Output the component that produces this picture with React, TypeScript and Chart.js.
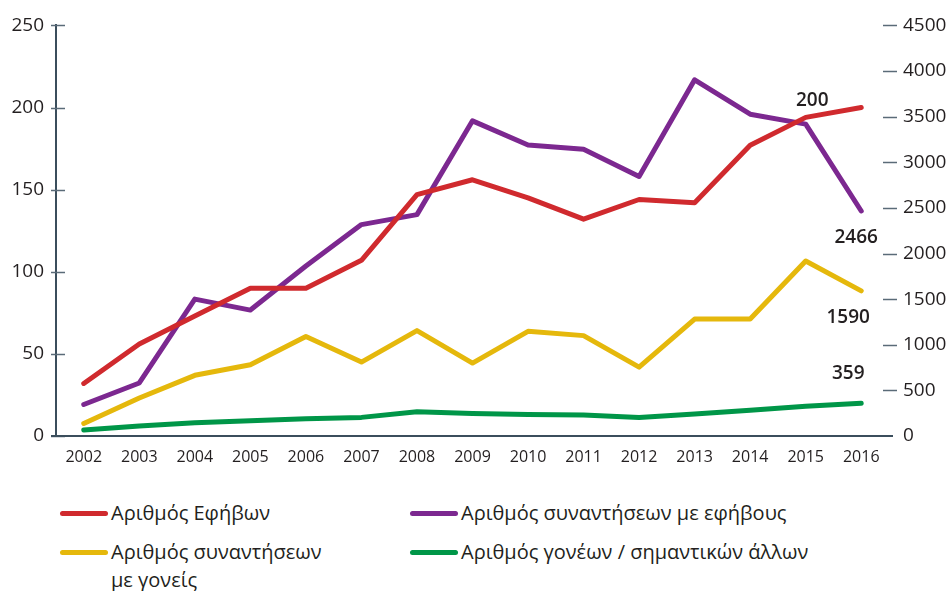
import React, { useEffect, useRef } from "react";
import { Chart, registerables } from "chart.js";

Chart.register(...registerables);

const years = ["2002", "2003", "2004", "2005", "2006", "2007", "2008", "2009", "2010", "2011", "2012", "2013", "2014", "2015", "2016"];
const adolescents = [32, 56, 73, 90, 90, 107, 147, 156, 145, 132, 144, 142, 177, 194, 200];
const sessionsAdolescents = [345, 581, 1500, 1380, 1863, 2317, 2426, 3454, 3189, 3142, 2844, 3904, 3527, 3418, 2466];
const sessionsParents = [138, 417, 665, 781, 1090, 810, 1155, 799, 1147, 1100, 755, 1282, 1282, 1918, 1590];
const parentsOthers = [65, 109, 145, 167, 189, 204, 265, 247, 236, 229, 204, 240, 283, 327, 359];

const seriesNames = [
  "Αριθμός Εφήβων",
  "Αριθμός συναντήσεων με εφήβους",
  "Αριθμός συναντήσεων με γονείς",
  "Αριθμός γονέων / σημαντικών άλλων",
];
const lastLabels = ["200", "2466", "1590", "359"];

const RED = "rgb(208,42,46)";
const PURPLE = "rgb(124,40,144)";
const YELLOW = "rgb(229,184,12)";
const GREEN = "rgb(0,150,72)";
const AXIS = "#3b4e5c";
const TICKC = "#5a6b78";
const TEXT = "#231f20";
const FONT = "'Open Sans', sans-serif";

const labelOffsets = [
  { dx: -49, dy: -7 },
  { dx: -5, dy: 27 },
  { dx: -13, dy: 27 },
  { dx: -13, dy: -30 },
];

const extrasPlugin = {
  id: "extras",
  afterDraw(chart: any) {
    const ctx = chart.ctx;
    const yL = chart.scales.y;
    const yR = chart.scales.y1;
    const ca = chart.chartArea;
    ctx.save();
    ctx.strokeStyle = TICKC;
    ctx.lineWidth = 1.5;
    yL.ticks.forEach((t: any) => {
      const y = Math.round(yL.getPixelForValue(t.value)) + 0.5;
      ctx.beginPath();
      ctx.moveTo(ca.left - 5, y);
      ctx.lineTo(ca.left + 9, y);
      ctx.stroke();
    });
    yR.ticks.forEach((t: any) => {
      const y = Math.round(yR.getPixelForValue(t.value)) + 0.5;
      if (t.value === 0) return;
      ctx.beginPath();
      ctx.moveTo(ca.right - 6, y);
      ctx.lineTo(ca.right + 8, y);
      ctx.stroke();
    });
    ctx.strokeStyle = AXIS;
    ctx.lineWidth = 2;
    ctx.beginPath();
    ctx.moveTo(ca.left - 5, ca.bottom);
    ctx.lineTo(ca.right + 4, ca.bottom);
    ctx.stroke();
    ctx.fillStyle = TEXT;
    ctx.font = `600 19px ${FONT}`;
    ctx.textAlign = "center";
    ctx.textBaseline = "middle";
    chart.data.datasets.forEach((ds: any, i: number) => {
      const meta = chart.getDatasetMeta(i);
      const pt = meta.data[meta.data.length - 1];
      if (!pt) return;
      const o = labelOffsets[i];
      ctx.fillText(lastLabels[i], pt.x + o.dx, pt.y + o.dy);
    });
    ctx.restore();
  },
};

export default function App() {
  const ref = useRef<HTMLCanvasElement>(null);
  useEffect(() => {
    if (!ref.current) return;
    const common = {
      borderWidth: 5,
      pointRadius: 0,
      fill: false,
      tension: 0,
      borderCapStyle: "round" as const,
      borderJoinStyle: "round" as const,
    };
    const chart = new Chart(ref.current, {
      type: "line",
      data: {
        labels: years,
        datasets: [
          { ...common, label: seriesNames[0], data: adolescents, borderColor: RED, backgroundColor: RED, yAxisID: "y" },
          { ...common, label: seriesNames[1], data: sessionsAdolescents, borderColor: PURPLE, backgroundColor: PURPLE, yAxisID: "y1" },
          { ...common, label: seriesNames[2], data: sessionsParents, borderColor: YELLOW, backgroundColor: YELLOW, yAxisID: "y1" },
          { ...common, label: seriesNames[3], data: parentsOthers, borderColor: GREEN, backgroundColor: GREEN, yAxisID: "y1" },
        ],
      },
      options: {
        animation: false,
        responsive: false,
        maintainAspectRatio: false,
        layout: { padding: { top: 23, left: 0, right: 0, bottom: 0 } },
        plugins: { legend: { display: false }, tooltip: { enabled: false } },
        scales: {
          x: {
            offset: true,
            grid: { display: false, drawTicks: false },
            border: { display: false },
            ticks: { color: TEXT, font: { family: FONT, size: 16 }, padding: 12, maxRotation: 0, autoSkip: false },
            afterFit: (s: any) => { s.height = 44; },
          },
          y: {
            position: "left",
            min: 0,
            max: 250,
            grid: { display: false, drawTicks: false },
            border: { display: true, color: AXIS, width: 2 },
            ticks: { stepSize: 50, color: TEXT, font: { family: FONT, size: 19 }, padding: 12, callback: (v: any) => String(v) },
            afterFit: (s: any) => { s.width = 56; },
          },
          y1: {
            position: "right",
            min: 0,
            max: 4500,
            grid: { display: false, drawTicks: false },
            border: { display: false },
            ticks: { stepSize: 500, color: TEXT, font: { family: FONT, size: 19 }, padding: 14, callback: (v: any) => String(v) },
            afterFit: (s: any) => { s.width = 62; },
          },
        },
      },
      plugins: [extrasPlugin],
    });
    return () => chart.destroy();
  }, []);

  const legendItem = (color: string, text: React.ReactNode, left: number, top: number) => (
    <div style={{ position: "absolute", left, top, display: "flex", alignItems: "flex-start" }}>
      <div style={{ width: 48, height: 5, borderRadius: 3, background: color, marginTop: 12, marginRight: 3 }} />
      <div style={{ fontFamily: FONT, fontSize: 20, lineHeight: "28px", color: TEXT, whiteSpace: "nowrap" }}>{text}</div>
    </div>
  );

  return (
    <div style={{ position: "absolute", left: 0, top: 0, width: 951, height: 591, background: "#fff", overflow: "hidden" }}>
      <canvas ref={ref} width={951} height={480} style={{ display: "block", width: 951, height: 480 }} />
      {legendItem(RED, seriesNames[0], 60, 499)}
      {legendItem(PURPLE, seriesNames[1], 410, 499)}
      {legendItem(YELLOW, <>Αριθμός συναντήσεων<br />με γονείς</>, 60, 538)}
      {legendItem(GREEN, seriesNames[3], 410, 538)}
    </div>
  );
}
